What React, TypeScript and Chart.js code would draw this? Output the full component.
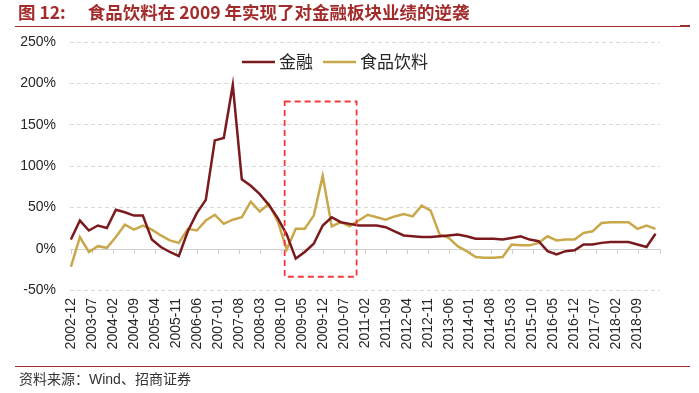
import React, { useEffect, useRef } from "react";
import { Chart, registerables } from "chart.js";

Chart.register(...registerables);

// ---------- data ----------
const startDate = "2002-12";
const tickLabels = [
  "2002-12", "2003-07", "2004-02", "2004-09", "2005-04", "2005-11", "2006-06",
  "2007-01", "2007-08", "2008-03", "2008-10", "2009-05", "2009-12", "2010-07",
  "2011-02", "2011-09", "2012-04", "2012-11", "2013-06", "2014-01", "2014-08",
  "2015-03", "2015-10", "2016-05", "2016-12", "2017-07", "2018-02", "2018-09",
];
const seriesNames = ["金融", "食品饮料"];
// quarterly year-on-year growth (%), 2002-12 .. 2019-03
const financeValues = [
  11, 34, 22, 28, 25, 47, 44, 40, 40, 11, 2, -4, -9, 21, 43, 59, 131, 134, 198, 84,
  76, 66, 53, 37, 17, -12, -4, 6, 28, 38, 32, 30, 28, 28, 28, 26, 21, 16, 15, 14,
  14, 15, 16, 17, 15, 12, 12, 12, 11, 13, 15, 11, 9, -3, -7, -3, -2, 5, 5, 7,
  8, 8, 8, 5, 2, 18,
];
const foodValues = [
  -22, 14, -4, 3, 1, 14, 29, 23, 28, 23, 16, 10, 7, 24, 22, 34, 41, 30, 35, 38,
  57, 45, 54, 33, -1, 24, 24, 40, 88, 27, 32, 27, 34, 41, 38, 35, 39, 42, 39, 52,
  46, 17, 13, 3, -3, -10, -11, -11, -10, 5, 4, 4, 7, 15, 10, 11, 11, 19, 21, 31,
  32, 32, 32, 24, 28, 24,
];
const yTicks = [-50, 0, 50, 100, 150, 200, 250];
// highlighted period (dashed red box), in dates and % values
const boxDates = ["2008-11.3", "2010-11.3"];
const boxValues = [178, -34];

const monthIndex = (d: string) => {
  const [y, m] = d.split("-");
  const [sy, sm] = startDate.split("-");
  return (Number(y) - Number(sy)) * 12 + (Number(m) - Number(sm));
};
const quarterDates: string[] = [];
{
  let y = 2002, m = 12;
  for (let i = 0; i < financeValues.length; i++) {
    quarterDates.push(`${y}-${String(m).padStart(2, "0")}`);
    m += 3;
    if (m > 12) { m -= 12; y += 1; }
  }
}
const tickMonths = tickLabels.map(monthIndex);

const COLORS = ["#7b1a1d", "#c9a84c"];
const TEXT = "#262626";
const TICK_FONT = { family: "'Liberation Sans', Arial, sans-serif", size: 14 };

export default function App() {
  const ref = useRef<HTMLCanvasElement | null>(null);

  useEffect(() => {
    if (!ref.current) return;

    const overlay = {
      id: "overlay",
      beforeDatasetsDraw(chart: any) {
        const { ctx, chartArea } = chart;
        const xs = chart.scales.x, ys = chart.scales.y;
        const y0 = ys.getPixelForValue(0);
        ctx.save();
        ctx.strokeStyle = "#d0d0d0";
        ctx.lineWidth = 1;
        ctx.beginPath();
        ctx.moveTo(chartArea.left, Math.round(y0) + 0.5);
        ctx.lineTo(chartArea.right, Math.round(y0) + 0.5);
        const tx = tickMonths.map((m) => xs.getPixelForValue(m));
        tx.push(chartArea.right);
        tx.forEach((x) => {
          ctx.moveTo(Math.round(x) + 0.5, Math.round(y0));
          ctx.lineTo(Math.round(x) + 0.5, Math.round(y0) + 5);
        });
        ctx.stroke();
        ctx.restore();
      },
      afterDatasetsDraw(chart: any) {
        const { ctx, chartArea } = chart;
        const xs = chart.scales.x, ys = chart.scales.y;
        // dashed highlight box
        const bx = boxDates.map((d) => {
          const [y, m] = d.split("-");
          return xs.getPixelForValue((Number(y) - 2002) * 12 + (Number(m) - 12));
        });
        const by = boxValues.map((v) => ys.getPixelForValue(v));
        ctx.save();
        ctx.strokeStyle = "#f23b3b";
        ctx.lineWidth = 1.8;
        ctx.setLineDash([6, 4]);
        ctx.strokeRect(bx[0], by[0], bx[1] - bx[0], by[1] - by[0]);
        ctx.restore();

        // legend
        ctx.save();
        let x = chartArea.left + 172;
        const y = chartArea.top + 20;
        ctx.font = "17px 'Noto Sans CJK SC', sans-serif";
        ctx.textBaseline = "middle";
        seriesNames.forEach((name, i) => {
          ctx.strokeStyle = COLORS[i];
          ctx.lineWidth = 2.5;
          ctx.beginPath();
          ctx.moveTo(x, y);
          ctx.lineTo(x + 33, y);
          ctx.stroke();
          ctx.fillStyle = TEXT;
          ctx.fillText(name, x + 37, y);
          x += 37 + ctx.measureText(name).width + 10;
        });
        ctx.restore();
      },
    };

    const chart = new Chart(ref.current, {
      type: "line",
      data: {
        datasets: [financeValues, foodValues].map((vals, i) => ({
          label: seriesNames[i],
          data: vals.map((v, j) => ({ x: monthIndex(quarterDates[j]), y: v })),
          borderColor: COLORS[i],
          backgroundColor: COLORS[i],
          borderWidth: 2.5,
          pointRadius: 0,
          tension: 0,
          fill: false,
        })),
      },
      options: {
        responsive: false,
        animation: false,
        layout: { padding: { top: 42, right: 39, bottom: 0, left: 0 } },
        plugins: { legend: { display: false }, tooltip: { enabled: false }, title: { display: false } },
        scales: {
          x: {
            type: "linear",
            min: -0.3,
            max: 196.5,
            afterBuildTicks: (s: any) => { s.ticks = tickMonths.map((v) => ({ value: v })); },
            afterFit: (s: any) => { s.height = 103; },
            ticks: {
              autoSkip: false,
              minRotation: 90,
              maxRotation: 90,
              padding: 8,
              font: TICK_FONT,
              color: TEXT,
              callback: (v: any) => tickLabels[tickMonths.indexOf(Number(v))] ?? "",
            },
            grid: { display: false, drawTicks: false },
            border: { display: false },
          },
          y: {
            min: -50,
            max: 250,
            afterBuildTicks: (s: any) => { s.ticks = yTicks.map((v) => ({ value: v })); },
            afterFit: (s: any) => { s.width = 70; },
            ticks: {
              padding: 14,
              font: TICK_FONT,
              color: TEXT,
              callback: (v: any) => `${v}%`,
            },
            grid: {
              drawTicks: false,
              lineWidth: 1,
              color: (c: any) => (c.tick && c.tick.value === 0 ? "rgba(0,0,0,0)" : "#d9d9d9"),
            },
            border: { display: false, dash: [4, 3] },
          },
        },
      },
      plugins: [overlay],
    } as any);

    return () => chart.destroy();
  }, []);

  return (
    <div style={{ position: "absolute", left: 0, top: 0, width: 699, height: 393, background: "#fff", overflow: "hidden" }}>
      <canvas ref={ref} width={699} height={393} style={{ position: "absolute", left: 0, top: 0 }} />
      <div
        style={{
          position: "absolute", left: 18, top: 1, fontFamily: "'Noto Sans CJK SC', sans-serif",
          fontWeight: 700, fontSize: 17.5, color: "#a32b2b", whiteSpace: "pre", lineHeight: "22px",
        }}
      >
        <span>图 12:</span>
        <span style={{ marginLeft: 22 }}>食品饮料在 2009 年实现了对金融板块业绩的逆袭</span>
      </div>
      <div style={{ position: "absolute", left: 15, top: 26, width: 672, height: 1, background: "#a32b2b" }} />
      <div style={{ position: "absolute", left: 680, top: 25, width: 10, height: 2, background: "#a32b2b" }} />
      <div style={{ position: "absolute", left: 15, top: 366, width: 675, height: 1, background: "#a32b2b" }} />
      <div
        style={{
          position: "absolute", left: 19, top: 369, fontFamily: "'Noto Sans CJK SC', sans-serif",
          fontSize: 14, color: "#333", whiteSpace: "pre", lineHeight: "18px",
        }}
      >
        资料来源：<span style={{ fontFamily: "'Liberation Sans', Arial, sans-serif" }}>Wind</span>、招商证券
      </div>
    </div>
  );
}
